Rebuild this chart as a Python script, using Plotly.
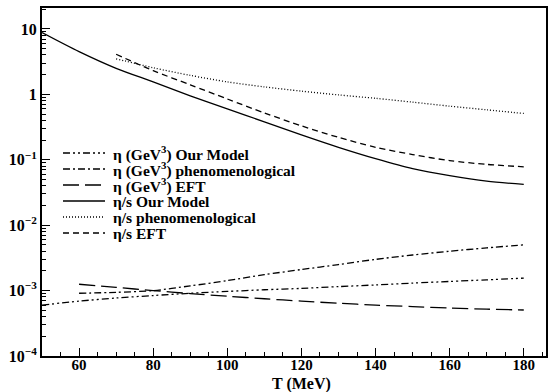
import plotly.graph_objects as go

T_full = [50, 60, 70, 80, 90, 100, 110, 120, 130, 140, 150, 160, 170, 180]
T_60 = [60, 70, 80, 90, 100, 110, 120, 130, 140, 150, 160, 170, 180]
T_70 = [70, 80, 90, 100, 110, 120, 130, 140, 150, 160, 170, 180]

eta_our = [6.0e-4, 6.9e-4, 7.7e-4, 8.4e-4, 9.1e-4, 9.7e-4, 1.03e-3, 1.08e-3,
           1.15e-3, 1.22e-3, 1.30e-3, 1.38e-3, 1.46e-3, 1.55e-3]
eta_phen = [9.1e-4, 9.4e-4, 1.0e-3, 1.18e-3, 1.42e-3, 1.75e-3, 2.1e-3,
            2.5e-3, 3.0e-3, 3.5e-3, 4.0e-3, 4.5e-3, 5.0e-3]
eta_eft = [1.25e-3, 1.12e-3, 1.0e-3, 9.0e-4, 8.2e-4, 7.5e-4, 6.9e-4,
           6.4e-4, 6.0e-4, 5.7e-4, 5.4e-4, 5.2e-4, 5.05e-4]
etas_our = [8.8, 4.5, 2.5, 1.55, 0.95, 0.6, 0.38, 0.24, 0.155, 0.104, 0.073,
            0.057, 0.047, 0.042]
etas_phen = [3.5, 2.55, 1.95, 1.55, 1.3, 1.12, 0.98, 0.87, 0.76, 0.66, 0.58, 0.51]
etas_eft = [4.1, 2.3, 1.4, 0.85, 0.52, 0.33, 0.22, 0.155, 0.12, 0.097, 0.085, 0.078]

names = ["η (GeV<sup>3</sup>) Our Model", "η (GeV<sup>3</sup>) phenomenological",
         "η (GeV<sup>3</sup>) EFT", "η/s Our Model", "η/s phenomenological", "η/s EFT"]
x_title = "T (MeV)"

x_ticks = [60, 80, 100, 120, 140, 160, 180]
y_ticks = [1e-4, 1e-3, 1e-2, 1e-1, 1, 10]
y_ticktext = ["10<sup>−4</sup>", "10<sup>−3</sup>", "10<sup>−2</sup>",
              "10<sup>−1</sup>", "1", "10"]

dashes = ["7px,3px,2px,3px,2px,3px", "7px,3px,2px,3px", "16px,6px",
          "solid", "1px,2px", "6px,4px"]
xs_list = [T_full, T_60, T_60, T_full, T_70, T_70]
ys_list = [eta_our, eta_phen, eta_eft, etas_our, etas_phen, etas_eft]

SERIF = "Liberation Serif"

fig = go.Figure()
for xs, ys, nm, dash in zip(xs_list, ys_list, names, dashes):
    fig.add_trace(go.Scatter(x=xs, y=ys, name=nm, mode="lines", showlegend=False,
                             line=dict(color="black", width=1.3, dash=dash,
                                       shape="spline", smoothing=0.8)))

# compact legend drawn as shapes + annotations (rows 16 px apart, as in the reference)
L, R, T0, B0 = 42, 546, 8, 356
W, H = R - L, B0 - T0
for i, (nm, dash) in enumerate(zip(names, dashes)):
    py = 153 + 16 * i
    yp = (B0 - py) / H
    fig.add_shape(type="line", xref="paper", yref="paper",
                  x0=(63 - L) / W, x1=(105 - L) / W, y0=yp, y1=yp,
                  line=dict(color="black", width=1.3, dash=dash))
    fig.add_annotation(xref="paper", yref="paper", x=(111 - L) / W, y=yp,
                       xanchor="left", yanchor="middle", showarrow=False,
                       text="<b>" + nm + "</b>",
                       font=dict(size=15.5, family=SERIF, color="black"))

# x-axis title
fig.add_annotation(xref="paper", yref="paper", x=(301 - L) / W, y=(B0 - 384) / H,
                   xanchor="center", yanchor="middle", showarrow=False,
                   text="<b>" + x_title + "</b>",
                   font=dict(size=16, family=SERIF, color="black"))

y_minor = []
for e in range(-4, 2):
    for d in range(2, 10):
        v = d * 10 ** e
        if v < 21:
            y_minor.append(v)

fig.update_layout(
    width=557, height=392,
    margin=dict(l=L, r=557 - R, t=T0, b=392 - B0),
    paper_bgcolor="white", plot_bgcolor="white",
    font=dict(family=SERIF, color="black", size=15),
    showlegend=False,
    xaxis=dict(range=[50, 186], tickvals=x_ticks,
               ticktext=["<b>%d</b>" % v for v in x_ticks],
               ticks="inside", ticklen=8, tickwidth=1.3, ticklabelstandoff=-6,
               tickcolor="black", showline=True, linecolor="black", linewidth=2, mirror=True,
               showgrid=False, zeroline=False, automargin=False,
               tickfont=dict(size=15, family=SERIF, color="black"),
               minor=dict(ticks="inside", ticklen=4, tickwidth=1, tickcolor="black",
                          dtick=5, showgrid=False)),
    yaxis=dict(type="log", range=[-4, 1.32], tickvals=y_ticks,
               ticktext=["<b>" + t + "</b>" for t in y_ticktext],
               ticks="inside", ticklen=8, tickwidth=1.3, tickcolor="black",
               showline=True, linecolor="black", linewidth=2, mirror=True,
               showgrid=False, zeroline=False, automargin=False,
               tickfont=dict(size=16, family=SERIF, color="black"),
               minor=dict(ticks="inside", ticklen=4, tickwidth=1, tickcolor="black",
                          tickvals=y_minor, showgrid=False)),
)

fig.write_html("out.html")
